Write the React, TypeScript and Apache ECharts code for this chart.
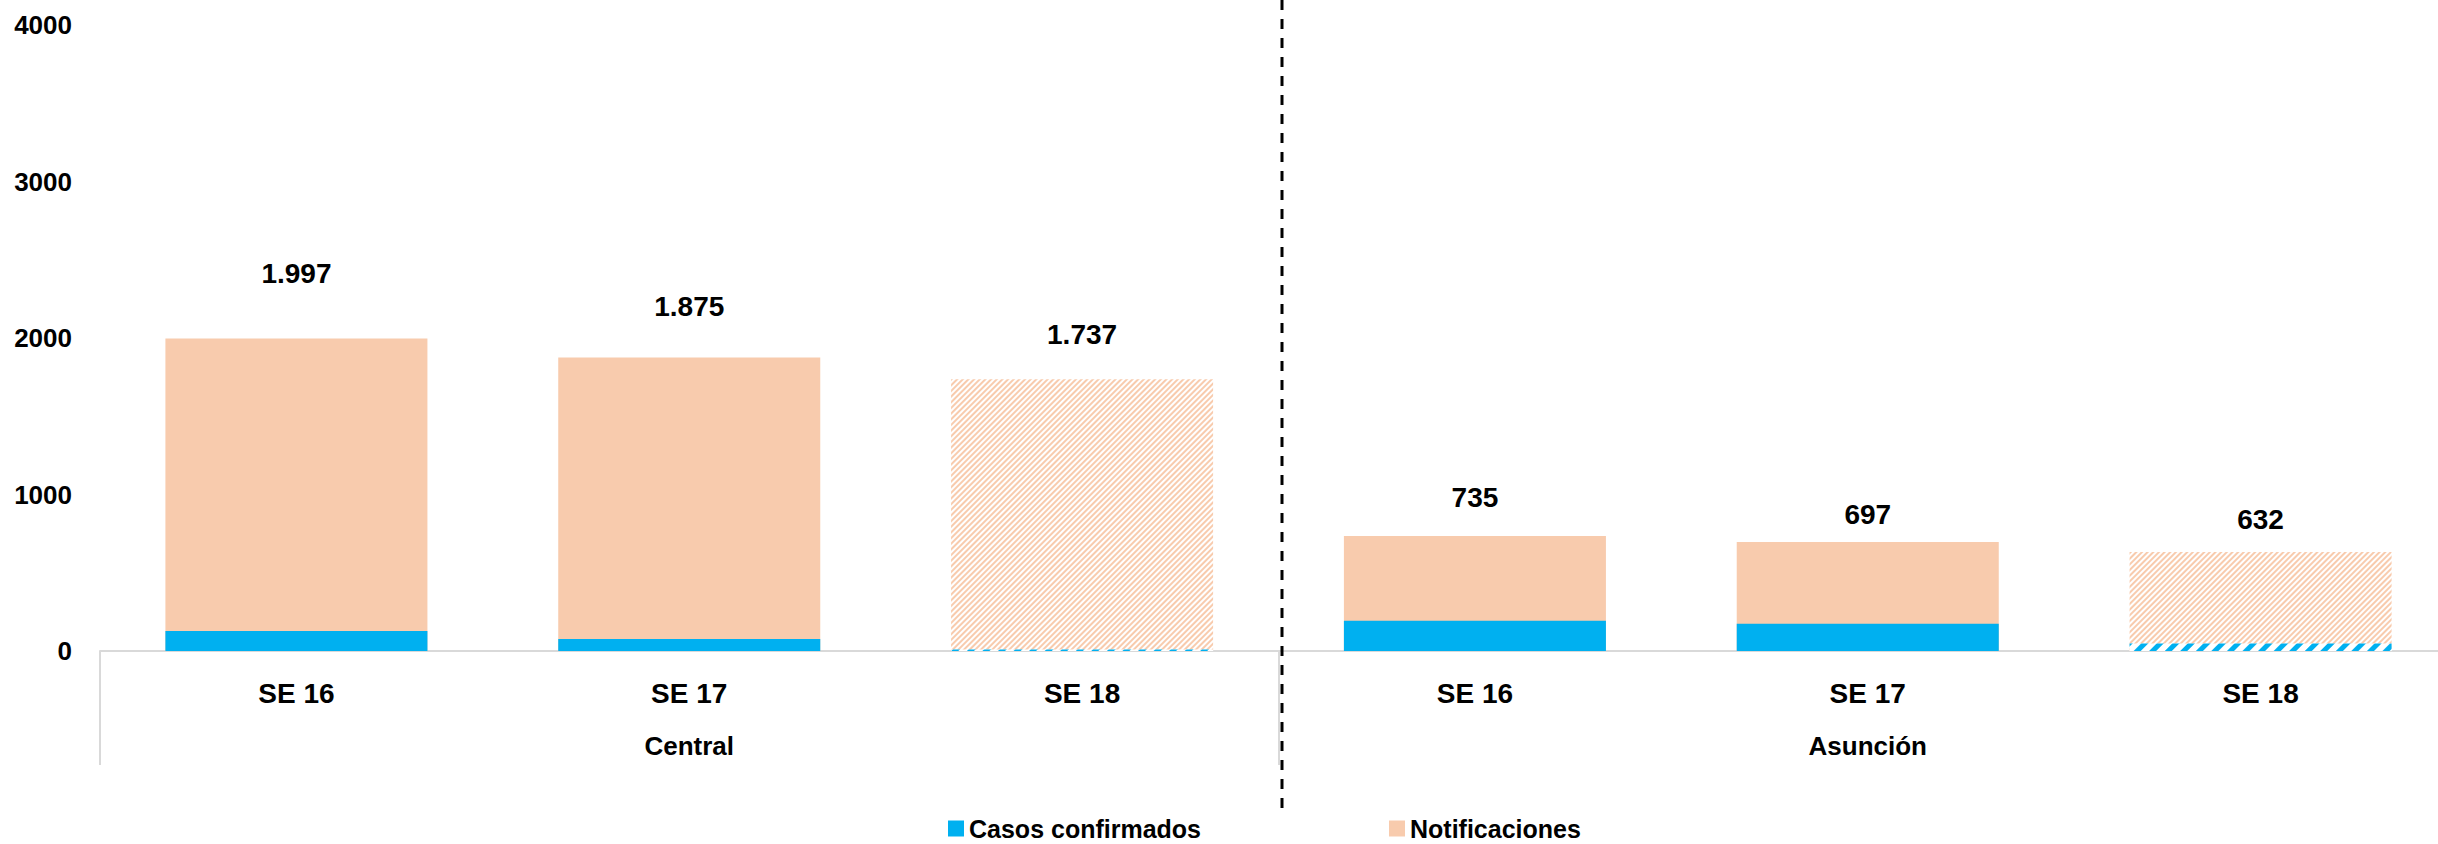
import React, { useEffect, useRef } from 'react';
import * as echarts from 'echarts';

const weeks = ['SE 16', 'SE 17', 'SE 18', 'SE 16', 'SE 17', 'SE 18'];
const regions = ['Central', 'Asunción'];
const notificaciones = [1997, 1875, 1737, 735, 697, 632];
const casosConfirmados = [128, 77, 10, 194, 174, 48];
const provisional = [false, false, true, false, false, true];
const yMin = 0;
const yMax = 4000;
const yStep = 1000;

// styling only: gap between bar top and its value label
const labelLift = [51, 37, 31, 24, 13, 19];

const FONT = '"Liberation Sans", Arial, sans-serif';
const BLUE = '#00B0F0';
const ORANGE = '#F8CBAD';
const GRAY = '#D9D9D9';

const fmt = (v: number) => String(v).replace(/\B(?=(\d{3})+(?!\d))/g, '.');

export default function App() {
  const ref = useRef<HTMLDivElement>(null);
  useEffect(() => {
    if (!ref.current) return;
    const chart = echarts.init(ref.current, undefined, { renderer: 'svg' });
    const orangeData = notificaciones.map((v, i) => ({
      value: v,
      label: { distance: labelLift[i] },
      itemStyle: provisional[i]
        ? {
            color: '#ffffff',
            decal: {
              symbol: 'rect',
              symbolSize: 1,
              symbolKeepAspect: false,
              dashArrayX: [1, 0],
              dashArrayY: [2, 2],
              rotation: -Math.PI / 4,
              color: ORANGE,
            },
          }
        : { color: ORANGE },
    }));
    const blueData = casosConfirmados.map((v, i) => ({
      value: v,
      itemStyle: provisional[i]
        ? {
            color: '#ffffff',
            decal: {
              symbol: 'rect',
              symbolSize: 1,
              symbolKeepAspect: false,
              dashArrayX: [1, 0],
              dashArrayY: [5, 6],
              rotation: -Math.PI / 4,
              color: BLUE,
            },
          }
        : { color: BLUE },
    }));
    chart.setOption({
      animation: false,
      backgroundColor: '#ffffff',
      textStyle: { fontFamily: FONT },
      grid: { left: 100, right: 0, top: 25, bottom: 193, containLabel: false },
      legend: {
        data: ['Casos confirmados', 'Notificaciones'],
        left: 943,
        top: 811,
        itemWidth: 16,
        itemHeight: 16,
        itemGap: 188,
        icon: 'rect',
        textStyle: { fontFamily: FONT, fontSize: 25, fontWeight: 'bold', color: '#000' },
      },
      xAxis: [
        {
          type: 'category',
          data: weeks,
          boundaryGap: true,
          axisLine: { show: true, lineStyle: { color: GRAY, width: 2 } },
          axisTick: { show: false },
          axisLabel: {
            interval: 0,
            margin: 28,
            fontFamily: FONT,
            fontSize: 28,
            fontWeight: 'bold',
            color: '#000',
          },
        },
        {
          type: 'category',
          data: regions,
          position: 'bottom',
          offset: 0,
          boundaryGap: true,
          axisLine: { show: false },
          axisTick: { show: true, interval: 0, length: 114, lineStyle: { color: GRAY, width: 2 } },
          axisLabel: {
            interval: 0,
            margin: 82,
            fontFamily: FONT,
            fontSize: 26,
            fontWeight: 'bold',
            color: '#000',
          },
        },
      ],
      yAxis: {
        type: 'value',
        min: yMin,
        max: yMax,
        interval: yStep,
        axisLine: { show: false },
        axisTick: { show: false },
        splitLine: { show: false },
        axisLabel: {
          margin: 28,
          formatter: (v: number) => String(v),
          fontFamily: FONT,
          fontSize: 26,
          fontWeight: 'bold',
          color: '#000',
        },
      },
      series: [
        {
          name: 'Notificaciones',
          type: 'bar',
          xAxisIndex: 0,
          data: orangeData,
          itemStyle: { color: ORANGE },
          barCategoryGap: '33.3%',
          barGap: '-100%',
          label: {
            show: true,
            position: 'top',
            formatter: (p: any) => fmt(p.value),
            fontFamily: FONT,
            fontSize: 28,
            fontWeight: 'bold',
            color: '#000',
          },
        },
        {
          name: 'Casos confirmados',
          type: 'bar',
          xAxisIndex: 0,
          data: blueData,
          itemStyle: { color: BLUE },
          barCategoryGap: '33.3%',
          barGap: '-100%',
        },
      ],
      graphic: [
        {
          type: 'line',
          shape: { x1: 1282, y1: 0, x2: 1282, y2: 809 },
          style: { stroke: '#000', lineWidth: 3, lineDash: [10, 9] },
          z: 100,
        },
      ],
    });
    return () => chart.dispose();
  }, []);
  return (
    <div
      ref={ref}
      style={{ position: 'fixed', left: 0, top: 0, width: 2457, height: 844, background: '#fff' }}
    />
  );
}
